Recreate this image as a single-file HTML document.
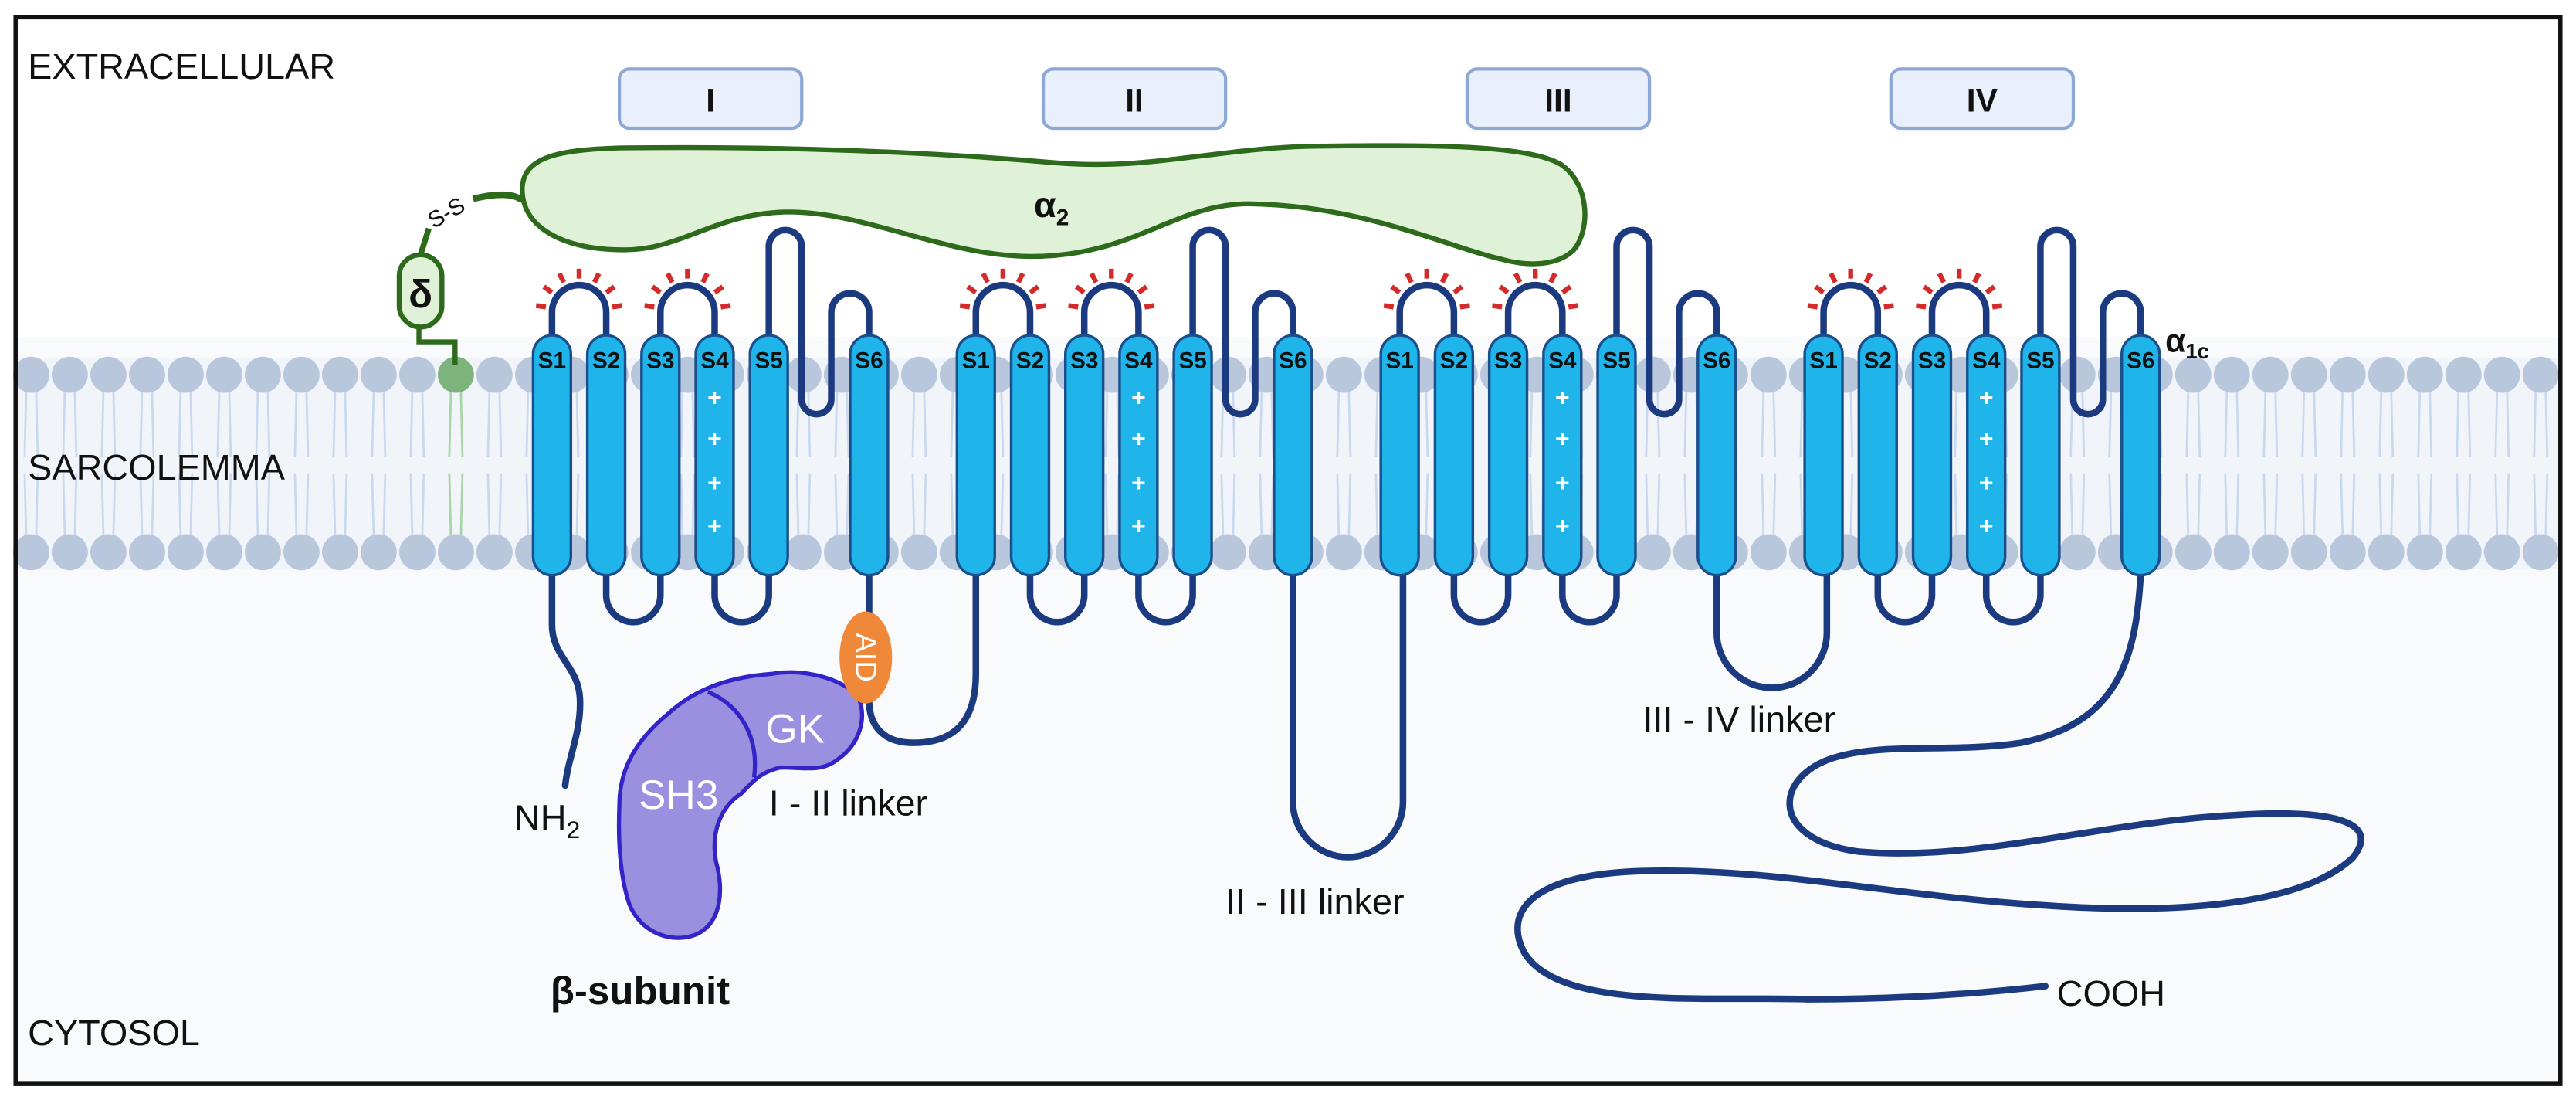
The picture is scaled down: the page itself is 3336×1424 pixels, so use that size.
<!DOCTYPE html>
<html><head><meta charset="utf-8"><style>
html,body{margin:0;padding:0;background:#fff}
svg{display:block}
text{font-family:"Liberation Sans",sans-serif}
</style></head><body>
<svg id="s" width="3336" height="1424" viewBox="0 0 1568 669.3" xmlns="http://www.w3.org/2000/svg">
<rect x="0" y="0" width="1568" height="670" fill="#fff"/>
<rect x="10" y="205" width="1548" height="454" fill="#f8fafc"/>
<rect x="10" y="218" width="1548" height="128" fill="#f1f5fa"/>
<g id="mem"></g>
<rect x="9.5" y="10.5" width="1549" height="649" fill="none" stroke="#111" stroke-width="2.6"/>
<text x="17" y="48" font-size="22" fill="#111">EXTRACELLULAR</text>
<text x="17" y="292" font-size="22" fill="#111">SARCOLEMMA</text>
<text x="17" y="636" font-size="22" fill="#111">CYTOSOL</text>
<g id="boxes"></g>
<path d="M318,118 C316,95 340,91 380,90 C470,89 560,92 642,99 C700,104 740,90 800,89 C870,88 930,88 950,100 C968,112 968,140 958,152 C948,162 930,162 915,158 C880,150 830,125 760,124 C715,124 690,156 628,156 C575,156 525,128 478,129 C435,130 415,152 380,152 C345,152 320,140 318,118 Z" fill="#dff2d8" stroke="#2e6a1c" stroke-width="3"/>
<path d="M288,121 C300,118 312,117 318,122" fill="none" stroke="#2e6a1c" stroke-width="4"/>
<text x="640" y="132" font-size="22" font-weight="bold" fill="#111" text-anchor="middle">α<tspan font-size="14" dy="5">2</tspan></text>
<text x="272" y="134" font-size="14" fill="#111" text-anchor="middle" transform="rotate(-30 272 130)">S-S</text>
<path d="M256,155 L261,139" stroke="#2e6a1c" stroke-width="3.5" fill="none"/>
<path d="M255,199 L255,208 L277,208 L277,222" stroke="#2e6a1c" stroke-width="3" fill="none"/>
<rect x="243" y="155" width="26" height="44" rx="13" fill="#dff2d8" stroke="#2e6a1c" stroke-width="3"/>
<text x="256" y="187" font-size="24" font-weight="bold" fill="#111" text-anchor="middle">δ</text>
<g id="loops" fill="none" stroke="#1c3a80" stroke-width="4" stroke-linecap="round"></g>
<g id="hel"></g>
<path d="M522,423 C505,408 480,408 470,410 C440,412 420,422 407,434 C385,452 377,470 377,490 C376,515 378,535 383,550 C390,568 410,575 425,568 C440,560 440,540 436,525 C432,505 440,490 451,483 C458,476 462,470 475,467 C490,467 500,470 510,462 C524,452 528,436 522,423 Z" fill="#9b8fe0" stroke="#3424c8" stroke-width="2.5"/>
<path d="M431,421 C452,430 462,450 459,473" fill="none" stroke="#3424c8" stroke-width="2.5"/>
<text x="484" y="452" font-size="25" fill="#fff" text-anchor="middle">GK</text>
<text x="413" y="492" font-size="25" fill="#fff" text-anchor="middle">SH3</text>
<ellipse cx="527" cy="400" rx="16" ry="28" fill="#f0883a"/>
<text x="527" y="400" font-size="18" fill="#fff" text-anchor="middle" transform="rotate(90 527 400)" dy="6">AID</text>
<text x="335" y="611" font-size="24" font-weight="bold" fill="#111">β-subunit</text>
<text x="313" y="505" font-size="22" fill="#111">NH<tspan font-size="15" dy="5">2</tspan></text>
<text x="468" y="496" font-size="22" fill="#111">I - II linker</text>
<text x="746" y="556" font-size="22" fill="#111">II - III linker</text>
<text x="1000" y="445" font-size="22" fill="#111">III - IV linker</text>
<text x="1252" y="612" font-size="22" fill="#111">COOH</text>
<text x="1318" y="214" font-size="20" font-weight="bold" fill="#111">α<tspan font-size="13" dy="4">1c</tspan></text>
</svg>
<script>
var NS="http://www.w3.org/2000/svg";
function el(p,t,a){var e=document.createElementNS(NS,t);for(var k in a)e.setAttribute(k,a[k]);p.appendChild(e);return e;}
var mem=document.getElementById('mem');
for(var x=19;x<1560;x+=23.5){
 var g=x>270&&x<285;
 var tc=g?"#a8d4a8":"#c9d8ef";
 el(mem,'path',{d:'M'+(x-3)+',236 L'+(x-4)+',278 M'+(x+3)+',236 L'+(x+4)+',278 M'+(x-4)+',288 L'+(x-3)+',328 M'+(x+4)+',288 L'+(x+3)+',328',stroke:tc,'stroke-width':1.3,fill:'none'});
 el(mem,'circle',{cx:x,cy:228,r:11,fill:g?"#7db47d":"#b8c7dc"});
 el(mem,'circle',{cx:x,cy:336,r:11,fill:"#b8c7dc"});
}
var boxes=document.getElementById('boxes');
[["I",377],["II",635],["III",893],["IV",1151]].forEach(function(b){
 el(boxes,'rect',{x:b[1],y:42,width:111,height:36,rx:6,fill:'#e9f0fb',stroke:'#8ea8d6','stroke-width':2});
 var t=el(boxes,'text',{x:b[1]+55.5,y:68,'font-size':20,'font-weight':'bold','text-anchor':'middle',fill:'#111'});t.textContent=b[0];
});
var loops=document.getElementById('loops'),hel=document.getElementById('hel');
var T=204,B=350;
var doms=[336,594,852,1110];
var helX=[];
doms.forEach(function(d,di){
 var xs=[d,d+33,d+66,d+99,d+132,d+193];helX.push(xs);
 [[0,1],[2,3]].forEach(function(p){
  var a=xs[p[0]],b=xs[p[1]],c=(a+b)/2,r=(b-a)/2;
  el(loops,'path',{d:'M'+a+','+T+' L'+a+',190 A'+r+','+r+' 0 0 1 '+b+',190 L'+b+','+T});
  for(var k=0;k<7;k++){var an=Math.PI*(1.05+k*0.15);var r1=r+4,r2=r+10;
   el(loops,'line',{x1:c+r1*Math.cos(an),y1:190+r1*Math.sin(an),x2:c+r2*Math.cos(an),y2:190+r2*Math.sin(an),stroke:'#d42a2a','stroke-width':3,'stroke-linecap':'butt'});}
 });
 [[1,2],[3,4]].forEach(function(p){
  var a=xs[p[0]],b=xs[p[1]],r=(b-a)/2;
  el(loops,'path',{d:'M'+a+','+B+' L'+a+',362 A'+r+','+r+' 0 0 0 '+b+',362 L'+b+','+B});
 });
 var s5=xs[4],s6=xs[5];
 el(loops,'path',{d:'M'+s5+','+T+' L'+s5+',150 A10,10 0 0 1 '+(s5+20)+',150 L'+(s5+20)+',243 A9,9 0 0 0 '+(s5+38)+',243 L'+(s5+38)+',190 A10.5,10.5 0 0 1 '+s6+',190 L'+s6+','+T});
});
el(loops,'path',{d:'M336,350 L336,380 C336,400 352,405 353,425 C354,445 346,460 344,478'});
el(loops,'path',{d:'M529,350 L529,373 M529,426 C529,440 536,452 556,452 C580,452 594,440 594,410 L594,350'});
el(loops,'path',{d:'M787,350 L787,488 A33.5,33.5 0 0 0 854,488 L854,350'});
el(loops,'path',{d:'M1045,350 L1045,385 A33.5,33.5 0 0 0 1112,385 L1112,350'});
el(loops,'path',{d:'M1303,350 C1300,400 1290,440 1230,452 C1190,458 1150,452 1120,460 C1080,470 1075,510 1130,518 C1200,525 1280,500 1360,496 C1420,492 1450,500 1432,522 C1400,552 1320,556 1246,551 C1150,545 1080,528 1000,530 C930,532 915,556 928,580 C950,615 1040,606 1100,608 C1160,608 1210,604 1245,600'});
helX.forEach(function(xs){
 xs.forEach(function(x,i){
  el(hel,'rect',{x:x-11.5,y:T,width:23,height:B-T,rx:11.5,fill:'#1fb4ea',stroke:'#1a4f8c','stroke-width':1.6});
  var t=el(hel,'text',{x:x,y:224,'font-size':14,'font-weight':'bold','text-anchor':'middle',fill:'#111'});t.textContent='S'+(i+1);
  if(i==3){[247,272,299,325].forEach(function(y){var p=el(hel,'text',{x:x,y:y,'font-size':15,'font-weight':'bold','text-anchor':'middle',fill:'#fff'});p.textContent='+';});}
 });
});
</script>
</body></html>
